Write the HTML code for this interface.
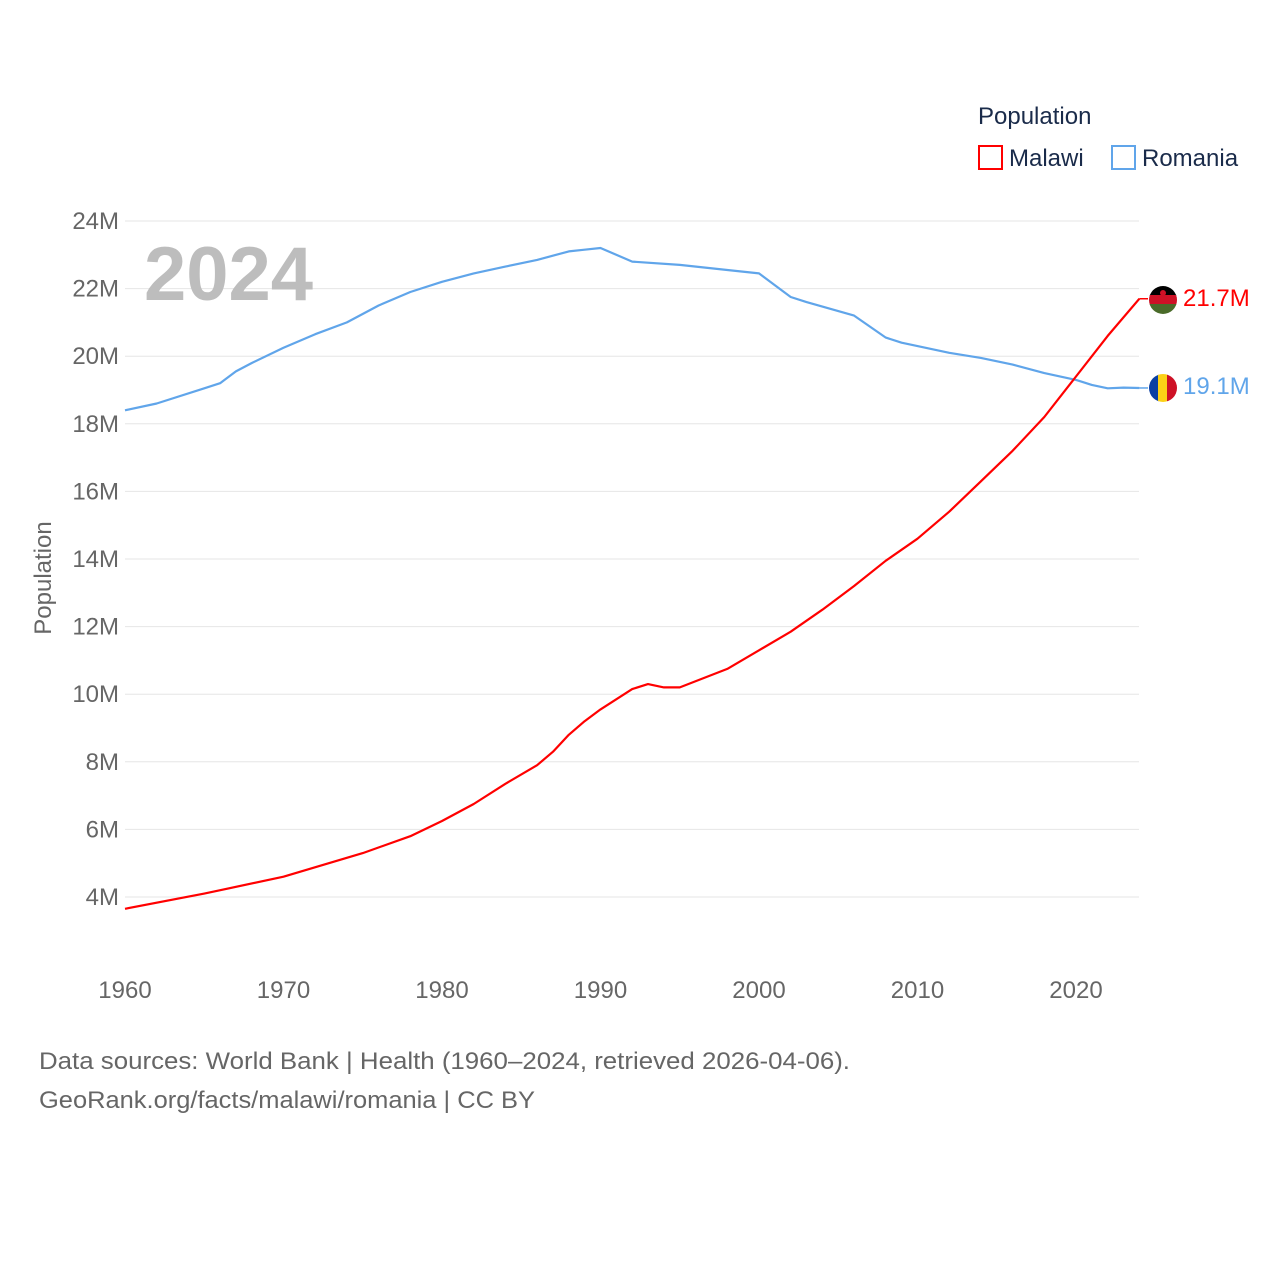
<!DOCTYPE html>
<html><head><meta charset="utf-8">
<style>
body{margin:0;background:#fff;font-family:"Liberation Sans",sans-serif;}
svg{display:block}
</style></head>
<body>
<svg id="chart" width="1280" height="1280" viewBox="0 0 1280 1280">
<g id="grid"></g>
<g id="yticks"></g>
<g id="xticks"></g>
<text x="144" y="300" font-size="76" font-weight="bold" fill="#bdbdbd">2024</text>
<text x="51" y="578" font-size="24" fill="#666" transform="rotate(-90 51 578)" text-anchor="middle">Population</text>
<g id="series"></g>
<g>
<text x="978" y="124" font-size="24" fill="#1a2b4a">Population</text>
<rect x="979" y="146" width="23" height="23" fill="none" stroke="#ff0000" stroke-width="2"/>
<text x="1009" y="166" font-size="24" fill="#1a2b4a">Malawi</text>
<rect x="1112" y="146" width="23" height="23" fill="none" stroke="#60a5ea" stroke-width="2"/>
<text x="1142" y="166" font-size="24" fill="#1a2b4a">Romania</text>
</g>
<defs>
<clipPath id="c1"><circle cx="1163" cy="300" r="14"/></clipPath>
<clipPath id="c2"><circle cx="1163" cy="388" r="14"/></clipPath>
</defs>
<g clip-path="url(#c1)">
<rect x="1149" y="286" width="28" height="10" fill="#000"/>
<rect x="1149" y="295" width="28" height="10" fill="#ce1126"/>
<rect x="1149" y="304" width="28" height="10" fill="#4a6b2a"/>
<circle cx="1163" cy="293" r="3" fill="#ce1126"/>
</g>
<g clip-path="url(#c2)">
<rect x="1149" y="374" width="10" height="28" fill="#0a3fa3"/>
<rect x="1158" y="374" width="10" height="28" fill="#fcd116"/>
<rect x="1167" y="374" width="10" height="28" fill="#ce1126"/>
</g>
<text id="lblM" x="1183" y="306" font-size="24" fill="#ff0000">21.7M</text>
<text id="lblR" x="1183" y="394" font-size="24" fill="#60a5ea">19.1M</text>
<text x="39" y="1069" font-size="24" fill="#666" textLength="811" lengthAdjust="spacingAndGlyphs">Data sources: World Bank | Health (1960–2024, retrieved 2026-04-06).</text>
<text x="39" y="1108" font-size="24" fill="#666" textLength="496" lengthAdjust="spacingAndGlyphs">GeoRank.org/facts/malawi/romania | CC BY</text>
</svg>
<script>
const yTicks=[4,6,8,10,12,14,16,18,20,22,24];
const xTicks=[1960,1970,1980,1990,2000,2010,2020];
const romaniaYears=[1960,1962,1965,1966,1967,1968,1970,1972,1974,1976,1978,1980,1982,1984,1986,1988,1989,1990,1992,1995,1998,2000,2001,2002,2003,2006,2008,2009,2010,2012,2014,2016,2018,2020,2021,2022,2023,2024];
const romaniaValues=[18.4,18.6,19.05,19.2,19.55,19.8,20.25,20.65,21.0,21.5,21.9,22.2,22.45,22.65,22.85,23.1,23.15,23.2,22.8,22.7,22.55,22.45,22.1,21.75,21.6,21.2,20.55,20.4,20.3,20.1,19.95,19.75,19.5,19.3,19.15,19.05,19.07,19.06];
const malawiYears=[1960,1965,1970,1975,1978,1980,1982,1984,1986,1987,1988,1989,1990,1992,1993,1994,1995,1998,2000,2002,2004,2006,2008,2010,2012,2014,2016,2018,2020,2022,2024];
const malawiValues=[3.65,4.1,4.6,5.3,5.8,6.25,6.75,7.35,7.9,8.3,8.8,9.2,9.55,10.15,10.3,10.2,10.2,10.75,11.3,11.85,12.5,13.2,13.95,14.6,15.4,16.3,17.2,18.2,19.4,20.6,21.7];
const ns="http://www.w3.org/2000/svg";
const X=y=>125+(y-1960)*(1076-125)/60;
const Y=v=>897-(v-4)*(897-221)/20;
function mk(t,a,p){const e=document.createElementNS(ns,t);for(const k in a)e.setAttribute(k,a[k]);p.appendChild(e);return e;}
const grid=document.getElementById('grid'),yt=document.getElementById('yticks'),xt=document.getElementById('xticks'),ser=document.getElementById('series');
yTicks.forEach(v=>{
 const l=mk('line',{x1:125,x2:1139,y1:Y(v),y2:Y(v),stroke:'#e6e6e6','stroke-width':1},grid);
 
 
 const t=mk('text',{x:119,y:Y(v)+8,'font-size':24,fill:'#666','text-anchor':'end'},yt);
 t.textContent=v+'M';
 
 
});
xTicks.forEach(y=>{
 const t=mk('text',{x:X(y),y:998,'font-size':24,fill:'#666','text-anchor':'middle'},xt);
 t.textContent=y;
 
 
});
function line(ys,vs,c,name){
 const d=ys.map((y,i)=>(i?'L':'M')+X(y).toFixed(1)+' '+Y(vs[i]).toFixed(1)).join(' ');
 const p=mk('path',{d:d,fill:'none',stroke:c,'stroke-width':2.2,'stroke-linejoin':'round'},ser);
 
 
 const ly=Y(vs[vs.length-1]);
 const c2=mk('line',{x1:X(ys[ys.length-1]),y1:ly,x2:1148,y2:ly,stroke:c,'stroke-width':1.5},ser);
 
 
}
line(romaniaYears,romaniaValues,'#60a5ea','romania-line');
line(malawiYears,malawiValues,'#ff0000','malawi-line');
document.getElementById('lblM').textContent=malawiValues[malawiValues.length-1].toFixed(1)+'M';
document.getElementById('lblR').textContent=romaniaValues[romaniaValues.length-1].toFixed(1)+'M';
</script>
</body></html>
